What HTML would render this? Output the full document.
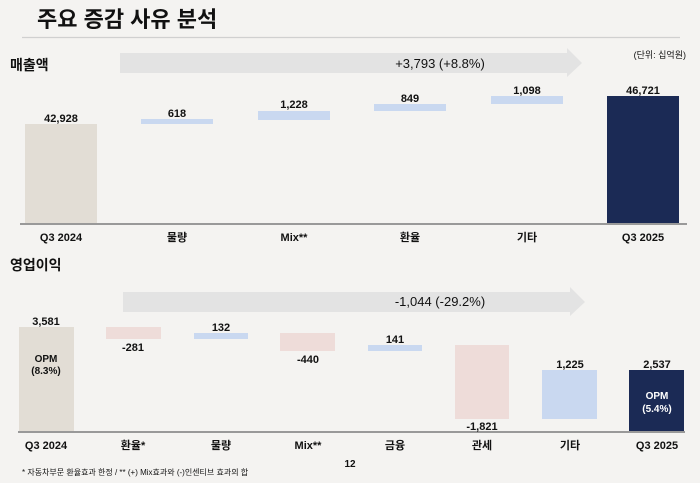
<!DOCTYPE html><html><head><meta charset="utf-8"><style>
body{margin:0;background:#f4f3f1}
svg{display:block;font-family:"Liberation Sans","Noto Sans CJK KR",sans-serif}
</style></head><body>
<svg width="700" height="483" viewBox="0 0 700 483">
<rect width="700" height="483" fill="#f4f3f1"/>
<text x="37" y="27" font-size="22" font-weight="bold" fill="#111">주요 증감 사유 분석</text>
<line x1="22" y1="37.5" x2="680" y2="37.5" stroke="#d0d0d0" stroke-width="1.2"/>
<g font-weight="bold" fill="#111" text-anchor="middle">
<text x="10" y="70" font-size="14" text-anchor="start">매출액</text>
<text x="686" y="58" font-size="9" font-weight="normal" text-anchor="end">(단위: 십억원)</text>
<polygon points="120,53 567,53 567,48 582,63 567,77 567,73 120,73" fill="#e3e3e3"/>
<text x="440" y="68" font-size="13" font-weight="normal">+3,793 (+8.8%)</text>
<rect x="25" y="124" width="72" height="100" fill="#e2ddd5"/>
<rect x="141" y="119" width="72" height="5" fill="#c9d8f0"/>
<rect x="258" y="111" width="72" height="9" fill="#c9d8f0"/>
<rect x="374" y="104" width="72" height="7" fill="#c9d8f0"/>
<rect x="491" y="96" width="72" height="8" fill="#c9d8f0"/>
<rect x="607" y="96" width="72" height="128" fill="#1b2a55"/>
<line x1="20" y1="224" x2="687" y2="224" stroke="#999" stroke-width="2"/>
<g font-size="11">
<text x="61" y="122">42,928</text><text x="177" y="117">618</text><text x="294" y="108">1,228</text>
<text x="410" y="102">849</text><text x="527" y="94">1,098</text><text x="643" y="94">46,721</text>
</g>
<g font-size="11">
<text x="61" y="241">Q3 2024</text><text x="177" y="241">물량</text><text x="294" y="241">Mix**</text>
<text x="410" y="241">환율</text><text x="527" y="241">기타</text><text x="643" y="241">Q3 2025</text>
</g>
<text x="10" y="270" font-size="14" text-anchor="start">영업이익</text>
<polygon points="123,292 570,292 570,287 585,302 570,316 570,312 123,312" fill="#e3e3e3"/>
<text x="440" y="306" font-size="13" font-weight="normal">-1,044 (-29.2%)</text>
<rect x="19" y="327" width="55" height="105" fill="#e2ddd5"/>
<rect x="106" y="327" width="55" height="12" fill="#eedcd9"/>
<rect x="194" y="333" width="54" height="6" fill="#c9d8f0"/>
<rect x="280" y="333" width="55" height="18" fill="#eedcd9"/>
<rect x="368" y="345" width="54" height="6" fill="#c9d8f0"/>
<rect x="455" y="345" width="54" height="74" fill="#eedcd9"/>
<rect x="542" y="370" width="55" height="49" fill="#c9d8f0"/>
<rect x="629" y="370" width="55" height="62" fill="#1b2a55"/>
<line x1="18" y1="432" x2="685" y2="432" stroke="#999" stroke-width="2"/>
<g font-size="11">
<text x="46" y="325">3,581</text><text x="133" y="351">-281</text><text x="221" y="331">132</text>
<text x="308" y="363">-440</text><text x="395" y="343">141</text><text x="482" y="430">-1,821</text>
<text x="570" y="368">1,225</text><text x="657" y="368">2,537</text>
</g>
<g font-size="10">
<text x="46" y="362">OPM</text><text x="46" y="374">(8.3%)</text>
<text x="657" y="399" fill="#fff">OPM</text><text x="657" y="412" fill="#fff">(5.4%)</text>
</g>
<g font-size="11">
<text x="46" y="449">Q3 2024</text><text x="133" y="449">환율*</text><text x="221" y="449">물량</text>
<text x="308" y="449">Mix**</text><text x="395" y="449">금융</text><text x="482" y="449">관세</text>
<text x="570" y="449">기타</text><text x="657" y="449">Q3 2025</text>
</g>
<text x="350" y="467" font-size="10">12</text>
<text x="22" y="475" font-size="8" font-weight="normal" text-anchor="start">* 자동차부문 환율효과 한정 / ** (+) Mix효과와 (-)인센티브 효과의 합</text>
</g>
</svg>
</body></html>
